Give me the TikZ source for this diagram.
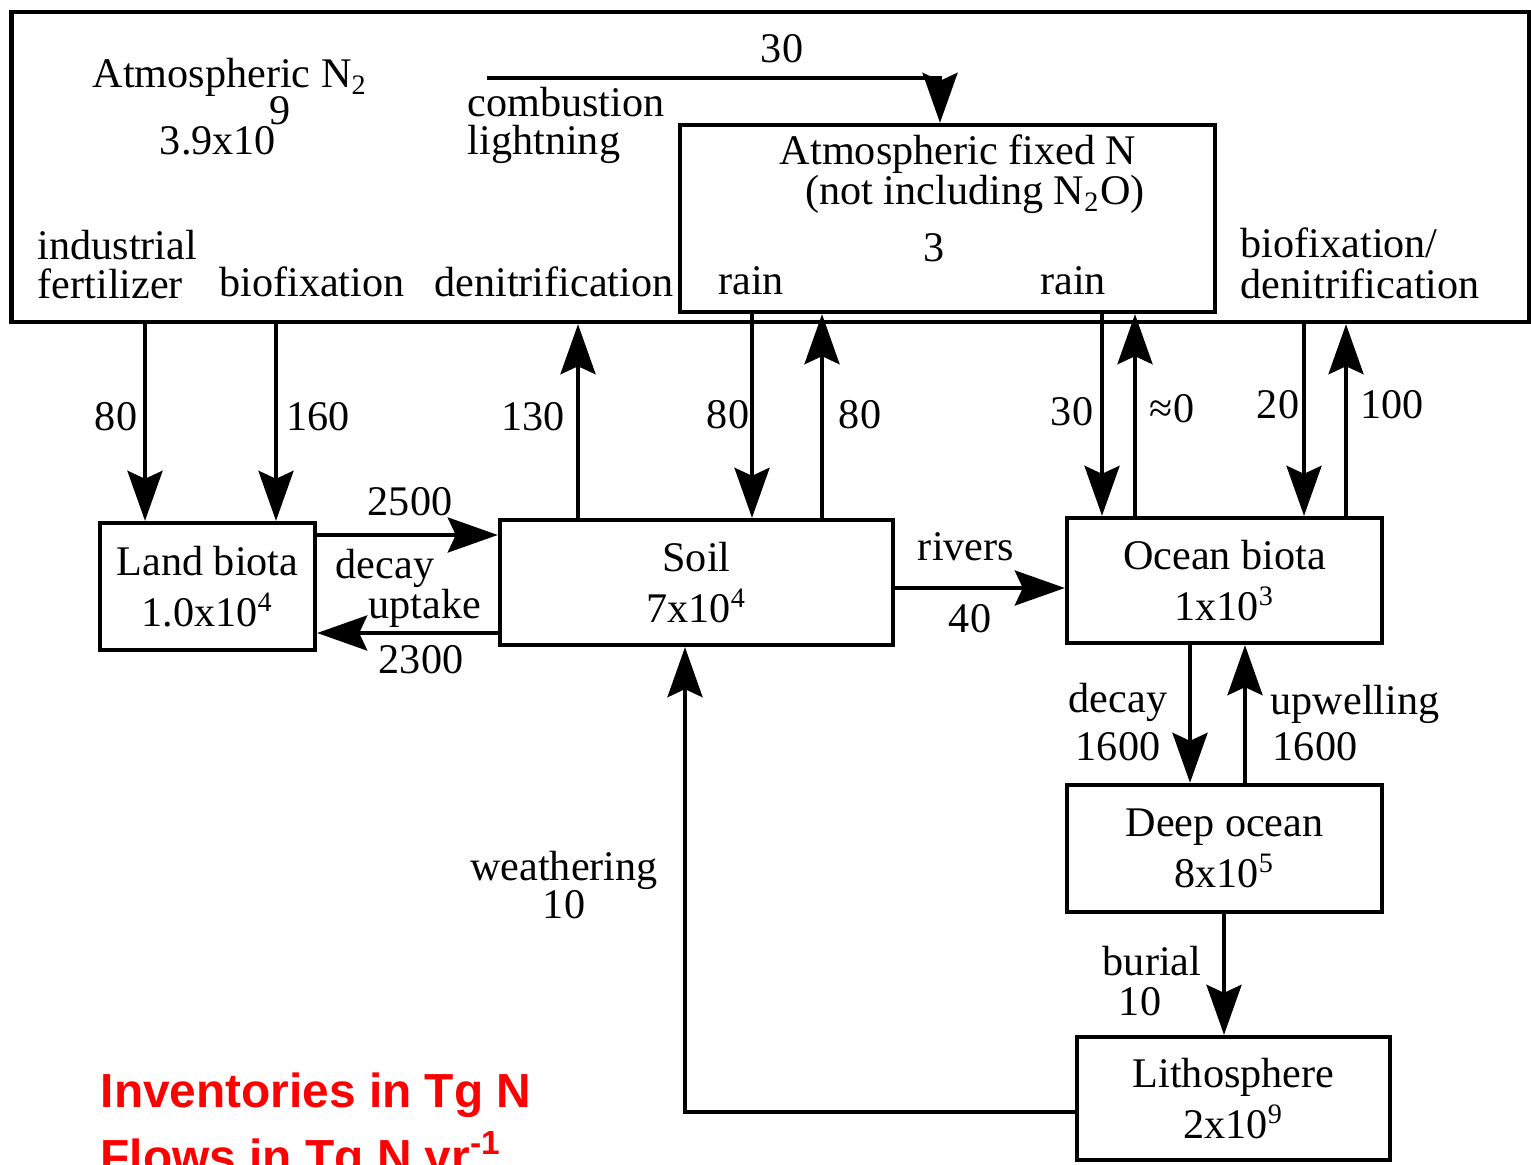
\documentclass[tikz,border=0pt]{standalone}
\usepackage{fontspec}
\setmainfont{Liberation Serif}
\newfontfamily\notefont{Liberation Sans}
\usetikzlibrary{arrows.meta}

\tikzset{
  pool/.style={draw,line width=1.2pt,inner sep=2pt,align=center},
  flow/.style={line width=1.1pt,-{Stealth[length=5mm,width=3.5mm,inset=0.8mm]}},
  txt/.style={anchor=base,inner sep=0pt},
  ltxt/.style={anchor=base west,inner sep=0pt},
  note/.style={anchor=base west,inner sep=0pt,text=red,font=\notefont\bfseries\fontsize{13.6}{17}\selectfont}
}

\begin{document}
\begin{tikzpicture}[x=0.01cm,y=-0.01cm,font=\fontsize{12}{14.5}\selectfont]
\useasboundingbox (0,0) rectangle (1531,1164);
% reservoirs
\node[pool,minimum width=15.17cm,minimum height=3.1cm] (atm) at (770.5,167) {};
\node[pool,minimum width=5.35cm,minimum height=1.87cm] (fix) at (947.5,218.5) {};
\node[pool,minimum width=2.15cm,minimum height=1.27cm] (land) at (207.5,586.5) {Land biota\\1.0x10\textsuperscript{4}};
\node[pool,minimum width=3.93cm,minimum height=1.25cm] (soil) at (696.5,582.5) {Soil\\7x10\textsuperscript{4}};
\node[pool,minimum width=3.15cm,minimum height=1.25cm] (ocean) at (1224.5,580.5) {Ocean biota\\1x10\textsuperscript{3}};
\node[pool,minimum width=3.15cm,minimum height=1.27cm] (deep) at (1224.5,848.5) {Deep ocean\\8x10\textsuperscript{5}};
\node[pool,minimum width=3.13cm,minimum height=1.23cm] (litho) at (1233.5,1098.5) {Lithosphere\\2x10\textsuperscript{9}};

% atmosphere texts
\node[txt] (atmname) at (230,88) {Atmospheric N\textsubscript{2}};
\node[txt] (atminv) at (218,155) {3.9x10};
\node[txt] (atmexp) at (280,125) {9};
\node[ltxt] (comb) at (467,117) {combustion};
\node[ltxt] (light) at (467,155) {lightning};
\node[ltxt] (indus) at (37,260) {industrial};
\node[ltxt] (fert) at (37,298) {fertilizer};
\node[txt] (bfix) at (312,297) {biofixation};
\node[txt] (denit) at (554,297) {denitrification};
\node[ltxt] (bfixo) at (1240,258) {biofixation/};
\node[ltxt] (denito) at (1240,298) {denitrification};
\node[txt] (fixname) at (958,165) {Atmospheric fixed N};
\node[txt] (fixnote) at (975,205) {(not including N\textsubscript{2}O)};
\node[txt] (fixinv) at (934,262) {3};
\node[txt] (rainl) at (751,295) {rain};
\node[txt] (rainr) at (1073,295) {rain};

% fluxes
\coordinate (comb0) at (487,78);
\draw[flow] (comb0) -| (fix.north -| 940,0);
\draw[flow] (atm.south -| 145,0) -- (land.north -| 145,0);
\draw[flow] (atm.south -| 276,0) -- (land.north -| 276,0);
\draw[flow] (soil.north -| 578,0) -- (atm.south -| 578,0);
\draw[flow] (fix.south -| 752,0) -- (soil.north -| 752,0);
\draw[flow] (soil.north -| 822,0) -- (fix.south -| 822,0);
\draw[flow] (fix.south -| 1102,0) -- (ocean.north -| 1102,0);
\draw[flow] (ocean.north -| 1135,0) -- (fix.south -| 1135,0);
\draw[flow] (atm.south -| 1304,0) -- (ocean.north -| 1304,0);
\draw[flow] (ocean.north -| 1346,0) -- (atm.south -| 1346,0);
\draw[flow] (land.east |- 0,535) -- (soil.west |- 0,535);
\draw[flow] (soil.west |- 0,633) -- (land.east |- 0,633);
\draw[flow] (soil.east |- 0,588) -- (ocean.west |- 0,588);
\draw[flow] (ocean.south -| 1190,0) -- (deep.north -| 1190,0);
\draw[flow] (deep.north -| 1245,0) -- (ocean.south -| 1245,0);
\draw[flow] (deep.south -| 1224,0) -- (litho.north -| 1224,0);
\draw[flow] (litho.west |- 0,1112) -| (soil.south -| 685,0);

% flux labels
\node[txt] (f30) at (782,63) {30};
\node[txt] (f80a) at (116,430) {80};
\node[txt] (f160) at (318,430) {160};
\node[txt] (f130) at (533,430) {130};
\node[txt] (f80b) at (728,428) {80};
\node[txt] (f80c) at (860,428) {80};
\node[txt] (f30b) at (1072,425) {30};
\node[txt] (f0) at (1172,422) {≈0};
\node[txt] (f20) at (1278,418) {20};
\node[txt] (f100) at (1392,418) {100};
\node[txt] (f2500) at (410,515) {2500};
\node[txt] (ldecay) at (385,578) {decay};
\node[txt] (luptake) at (425,618) {uptake};
\node[txt] (f2300) at (421,673) {2300};
\node[txt] (rivers) at (966,560) {rivers};
\node[txt] (f40) at (970,632) {40};
\node[txt] (odecay) at (1118,712) {decay};
\node[txt] (f1600a) at (1118,760) {1600};
\node[txt] (upw) at (1355,714) {upwelling};
\node[txt] (f1600b) at (1315,760) {1600};
\node[txt] (burial) at (1152,975) {burial};
\node[txt] (f10a) at (1140,1015) {10};
\node[txt] (weath) at (564,880) {weathering};
\node[txt] (f10b) at (564,918) {10};

% units
\node[note] (inv) at (100,1107) {Inventories in Tg N};
\node[note] (flows) at (100,1173) {Flows in Tg N yr\textsuperscript{-1}};
\end{tikzpicture}
\end{document}
